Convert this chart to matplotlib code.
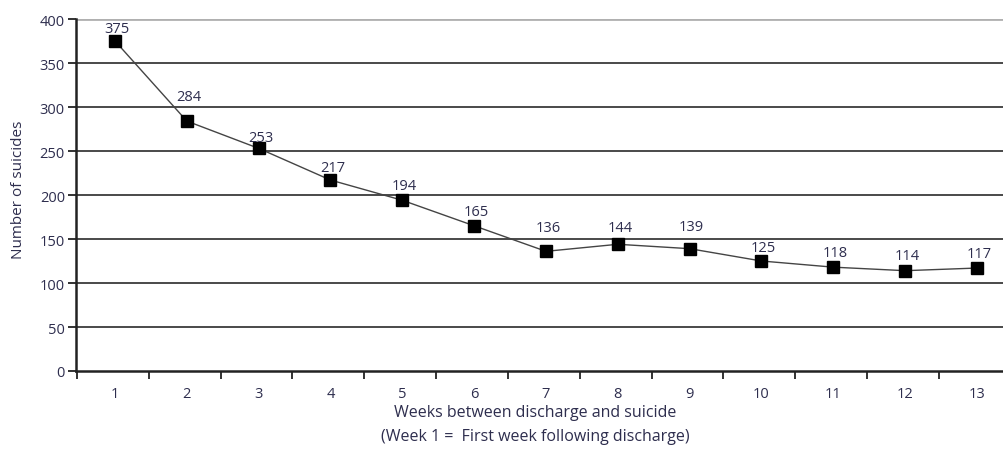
import matplotlib.pyplot as plt

weeks = list(range(1, 14))
suicides = [375, 284, 253, 217, 194, 165, 136, 144, 139, 125, 118, 114, 117]
yticks = [0, 50, 100, 150, 200, 250, 300, 350, 400]
# vertical gap (points) between each marker and its value label
label_gap = [9, 18, 7.5, 9, 10.5, 10.5, 17, 12, 16, 10, 10.5, 11, 10.5]

plt.rcParams['font.family'] = ['Open Sans', 'DejaVu Sans']
txt = '#2e2e4e'

fig = plt.figure(figsize=(10.04, 4.6), dpi=100)
ax = fig.add_axes([76 / 1004, 88 / 460, 1 - 76 / 1004, 352 / 460])

# horizontal grid lines (top one lighter)
for y in yticks[1:-1]:
    ax.axhline(y, color='#3a3a3a', lw=1.3, zorder=1)
ax.axhline(400, color='#b0b0b0', lw=2, zorder=1)

ax.plot(weeks, suicides, color='#444444', lw=1, marker='s', ms=9,
        mfc='black', mec='black', zorder=3)

for x, v, g in zip(weeks, suicides, label_gap):
    ax.annotate(str(v), (x, v), xytext=(1.5, g), textcoords='offset points',
                ha='center', va='center', fontsize=10.5, color=txt)

ax.set_ylim(0, 400)
ax.set_xlim(1 - 39 / 71.83, 1 + 889 / 71.83)
ax.set_yticks(yticks)
ax.set_yticklabels([str(t) for t in yticks], fontsize=10.5, color=txt)

# category labels centred, ticks at bin boundaries
ax.set_xticks(weeks)
ax.set_xticklabels([str(w) for w in weeks], fontsize=10.5, color=txt)
ax.tick_params(axis='x', which='major', length=0, pad=11)
ax.set_xticks([w + 0.47 for w in range(0, 13)], minor=True)
ax.tick_params(axis='x', which='minor', length=6, width=1.3, direction='out', color='#222222')
ax.tick_params(axis='y', length=6, width=1.3, color='#222222', pad=2)

for s in ['top', 'right']:
    ax.spines[s].set_visible(False)
for s in ['left', 'bottom']:
    ax.spines[s].set_linewidth(1.8)
    ax.spines[s].set_color('#222222')

ax.set_ylabel('Number of suicides', fontsize=11, color=txt)
ax.yaxis.set_label_coords(-0.054, 0.517)
fig.text(535 / 1004, 1 - 413 / 460, 'Weeks between discharge and suicide',
         ha='center', va='center', fontsize=11.5, color=txt)
fig.text(535 / 1004, 1 - 437 / 460, '(Week 1 =  First week following discharge)',
         ha='center', va='center', fontsize=11.5, color=txt)

fig.savefig('out.png', dpi=100)
